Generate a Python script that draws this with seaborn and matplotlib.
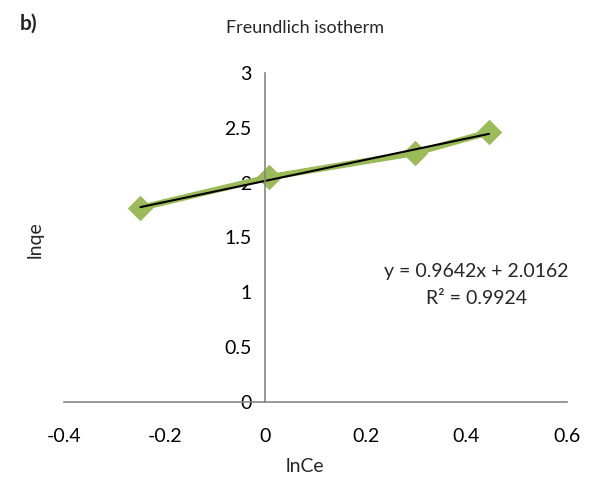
import numpy as np
import pandas as pd
import seaborn as sns
import matplotlib.pyplot as plt

# Data
ln_ce = [-0.248, 0.008, 0.297, 0.445]
ln_qe = [1.77, 2.05, 2.27, 2.46]
slope = 0.9642
intercept = 2.0162
r2 = 0.9924
x_ticks = [-0.4, -0.2, 0, 0.2, 0.4, 0.6]
y_ticks = [0, 0.5, 1, 1.5, 2, 2.5, 3]

sns.set_style("white")
plt.rcParams['font.family'] = ['Lato', 'DejaVu Sans']

green = '#9BBB59'
axis_grey = '#868686'

df = pd.DataFrame({"lnCe": ln_ce, "lnqe": ln_qe})
x_fit = np.array([min(ln_ce), max(ln_ce)])
fit = pd.DataFrame({"lnCe": x_fit, "lnqe": slope * x_fit + intercept})

fig = plt.figure(figsize=(5.95, 4.82), dpi=100)
ax = fig.add_axes([64 / 595, 1 - 402 / 482, (567 - 64) / 595, (402 - 73) / 482])

sns.lineplot(data=df, x="lnCe", y="lnqe", ax=ax, color=green, linewidth=4.5,
             marker='D', markersize=12, markeredgecolor=green, sort=False)
sns.lineplot(data=fit, x="lnCe", y="lnqe", ax=ax, color='black', linewidth=1.5)

ax.set_xlim(-0.4, 0.6)
ax.set_ylim(0, 3)
ax.set_xticks(x_ticks)
ax.set_yticks(y_ticks)
ax.set_xticklabels([f"{v:g}" for v in x_ticks])
ax.set_yticklabels([f"{v:g}" for v in y_ticks])

# Excel-style axes crossing at the origin
ax.spines['left'].set_position(('data', 0))
ax.spines['bottom'].set_position(('data', 0))
ax.spines['right'].set_visible(False)
ax.spines['top'].set_visible(False)
for s in ('left', 'bottom'):
    ax.spines[s].set_color(axis_grey)
    ax.spines[s].set_linewidth(1.2)
ax.tick_params(axis='both', direction='out', length=6, width=1.2, color=axis_grey,
               labelsize=14, labelcolor='black')
ax.tick_params(axis='x', pad=13)
ax.tick_params(axis='y', pad=4)
ax.set_xlabel("")
ax.set_ylabel("")

fig.text(305 / 595, 1 - 28 / 482, "Freundlich isotherm", ha='center', va='center', fontsize=13)
fig.text(20 / 595, 1 - 24 / 482, "b)", ha='left', va='center', fontsize=15, fontweight='bold')
fig.text(305 / 595, 1 - 467 / 482, "lnCe", ha='center', va='center', fontsize=14)
fig.text(35 / 595, 1 - 240 / 482, "lnqe", ha='center', va='center', fontsize=14, rotation=90)
fig.text(476 / 595, 1 - 272 / 482, f"y = {slope}x + {intercept}", ha='center', va='center', fontsize=14)
fig.text(476 / 595, 1 - 298 / 482, f"R² = {r2}", ha='center', va='center', fontsize=14)

fig.savefig("out.png", dpi=100)
